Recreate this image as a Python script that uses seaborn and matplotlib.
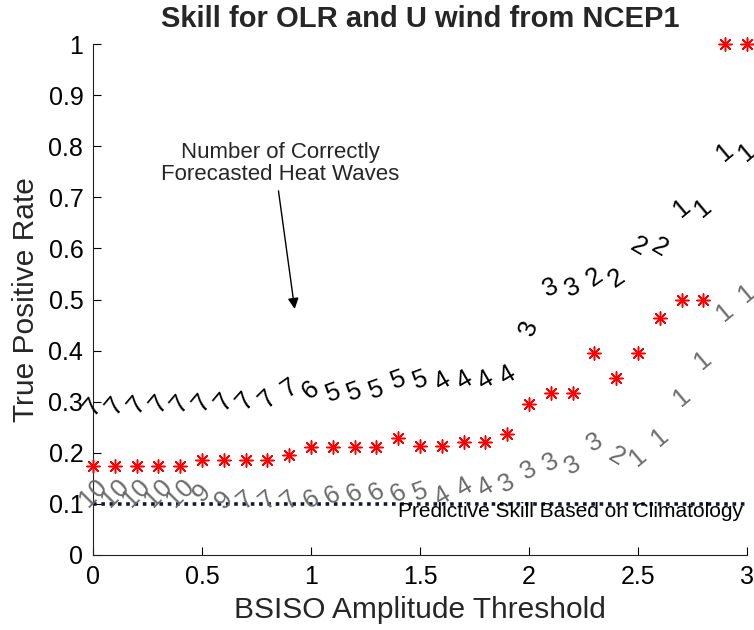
import numpy as np
import pandas as pd
import matplotlib
matplotlib.use("Agg")
import matplotlib.pyplot as plt
import seaborn as sns

# ---- data ----
thresholds = [0.0, 0.1, 0.2, 0.3, 0.4, 0.5, 0.6, 0.7, 0.8, 0.9, 1.0,
              1.1, 1.2, 1.3, 1.4, 1.5, 1.6, 1.7, 1.8, 1.9, 2.0,
              2.1, 2.2, 2.3, 2.4, 2.5, 2.6, 2.7, 2.8, 2.9, 3.0]
true_positive_rate = [0.175, 0.175, 0.175, 0.175, 0.175, 0.186, 0.186, 0.186, 0.186, 0.196, 0.211,
                      0.211, 0.211, 0.211, 0.229, 0.213, 0.213, 0.221, 0.221, 0.237, 0.296,
                      0.317, 0.317, 0.395, 0.346, 0.395, 0.464, 0.5, 0.5, 1.0, 1.0]
black_labels = ["7"] * 10 + ["6"] + ["5"] * 5 + ["4"] * 4 + ["3"] * 3 + ["2"] * 4 + ["1"] * 4
black_y = [0.290, 0.292, 0.294, 0.296, 0.296, 0.297, 0.299, 0.301, 0.305, 0.327, 0.323,
           0.317, 0.319, 0.323, 0.342, 0.342, 0.339, 0.342, 0.342, 0.352, 0.444,
           0.524, 0.524, 0.544, 0.542, 0.603, 0.601, 0.679, 0.679, 0.789, 0.789]
black_rot = [50, 50, 50, 50, 50, 50, 50, 48, 45, 35, 40,
             20, 20, 20, 20, 20, 30, 30, 30, 30, 70,
             25, 25, 35, 35, -30, -30, 40, 40, 40, 40]
gray_labels = ["10"] * 5 + ["9", "9", "7", "7", "7"] + ["6"] * 5 + ["5", "4", "4", "4"] + ["3"] * 5 + ["2"] + ["1"] * 6
gray_y = [0.121, 0.121, 0.121, 0.121, 0.121, 0.121, 0.108, 0.108, 0.108, 0.108, 0.108,
          0.117, 0.121, 0.123, 0.121, 0.123, 0.114, 0.133, 0.133, 0.141, 0.166,
          0.182, 0.176, 0.221, 0.192, 0.192, 0.231, 0.309, 0.382, 0.476, 0.513]
gray_rot = [45, 45, 45, 45, 45, 45, 45, 40, 40, 40, 30,
            30, 30, 30, 30, 20, 30, 30, 30, 30, 30,
            30, 30, 30, -30, 40, 40, 40, 40, 40, 40]
clim_x = [0.0, 3.0]
clim_y = [0.1, 0.1]

sns.set_style("white")
plt.rcParams['font.family'] = ['Liberation Sans', 'DejaVu Sans']

fig = plt.figure(figsize=(7.54, 6.30), dpi=100)
ax = fig.add_axes([93 / 754, 75 / 630, (747 - 93) / 754, (555 - 44) / 630])

df = pd.DataFrame({"x": thresholds, "tpr": true_positive_rate})
clim = pd.DataFrame({"x": clim_x, "y": clim_y})

sns.lineplot(data=clim, x="x", y="y", ax=ax, color="#0b1a33", linestyle=(0, (1, 1.3)),
             linewidth=2.6, zorder=2)
sns.scatterplot(data=df, x="x", y="tpr", ax=ax, marker=(8, 2, 0), color="red",
                s=90, linewidth=1.1, zorder=4, clip_on=False)

for x, y, t, r in zip(thresholds, gray_y, gray_labels, gray_rot):
    ax.text(x, y, t, color="#6b6b6b", fontsize=18.5, rotation=r, rotation_mode="anchor",
            ha="center", va="center", zorder=3, clip_on=False)
for x, y, t, r in zip(thresholds, black_y, black_labels, black_rot):
    ax.text(x, y, t, color="black", fontsize=18.5, rotation=r, rotation_mode="anchor",
            ha="center", va="center", zorder=3, clip_on=False)

ax.text(2.19, 0.086, "Predictive Skill Based on Climatology", fontsize=15,
        ha="center", va="center", color="black", zorder=5)

ax.annotate("", xy=(0.927, 0.476), xytext=(0.849, 0.718),
            arrowprops=dict(arrowstyle="-|>", color="black", lw=1.0, mutation_scale=16))
ax.text(0.86, 0.766, "Number of Correctly\nForecasted Heat Waves", fontsize=16,
        ha="center", va="center", linespacing=1.1)

ax.set_xlim(0, 3)
ax.set_ylim(0, 1)
ax.set_xticks([0, 0.5, 1, 1.5, 2, 2.5, 3])
ax.set_xticklabels(["0", "0.5", "1", "1.5", "2", "2.5", "3"])
ax.set_yticks([i / 10 for i in range(11)])
ax.set_yticklabels(["0"] + [f"0.{i}" for i in range(1, 10)] + ["1"])
ax.tick_params(axis="both", direction="in", length=6, width=0.8, labelsize=18,
               left=True, bottom=True, pad=7, colors="black")
for s in ["top", "right"]:
    ax.spines[s].set_visible(False)
for s in ["left", "bottom"]:
    ax.spines[s].set_color("#222222")
    ax.spines[s].set_linewidth(0.8)

ax.set_xlabel("BSISO Amplitude Threshold", fontsize=21.5, labelpad=5)
ax.set_ylabel("True Positive Rate", fontsize=21.5, labelpad=6)
ax.set_title("Skill for OLR and U wind from NCEP1", fontsize=21, fontweight="bold",
             family="Liberation Sans", pad=12)

fig.savefig("out.png", dpi=100)
